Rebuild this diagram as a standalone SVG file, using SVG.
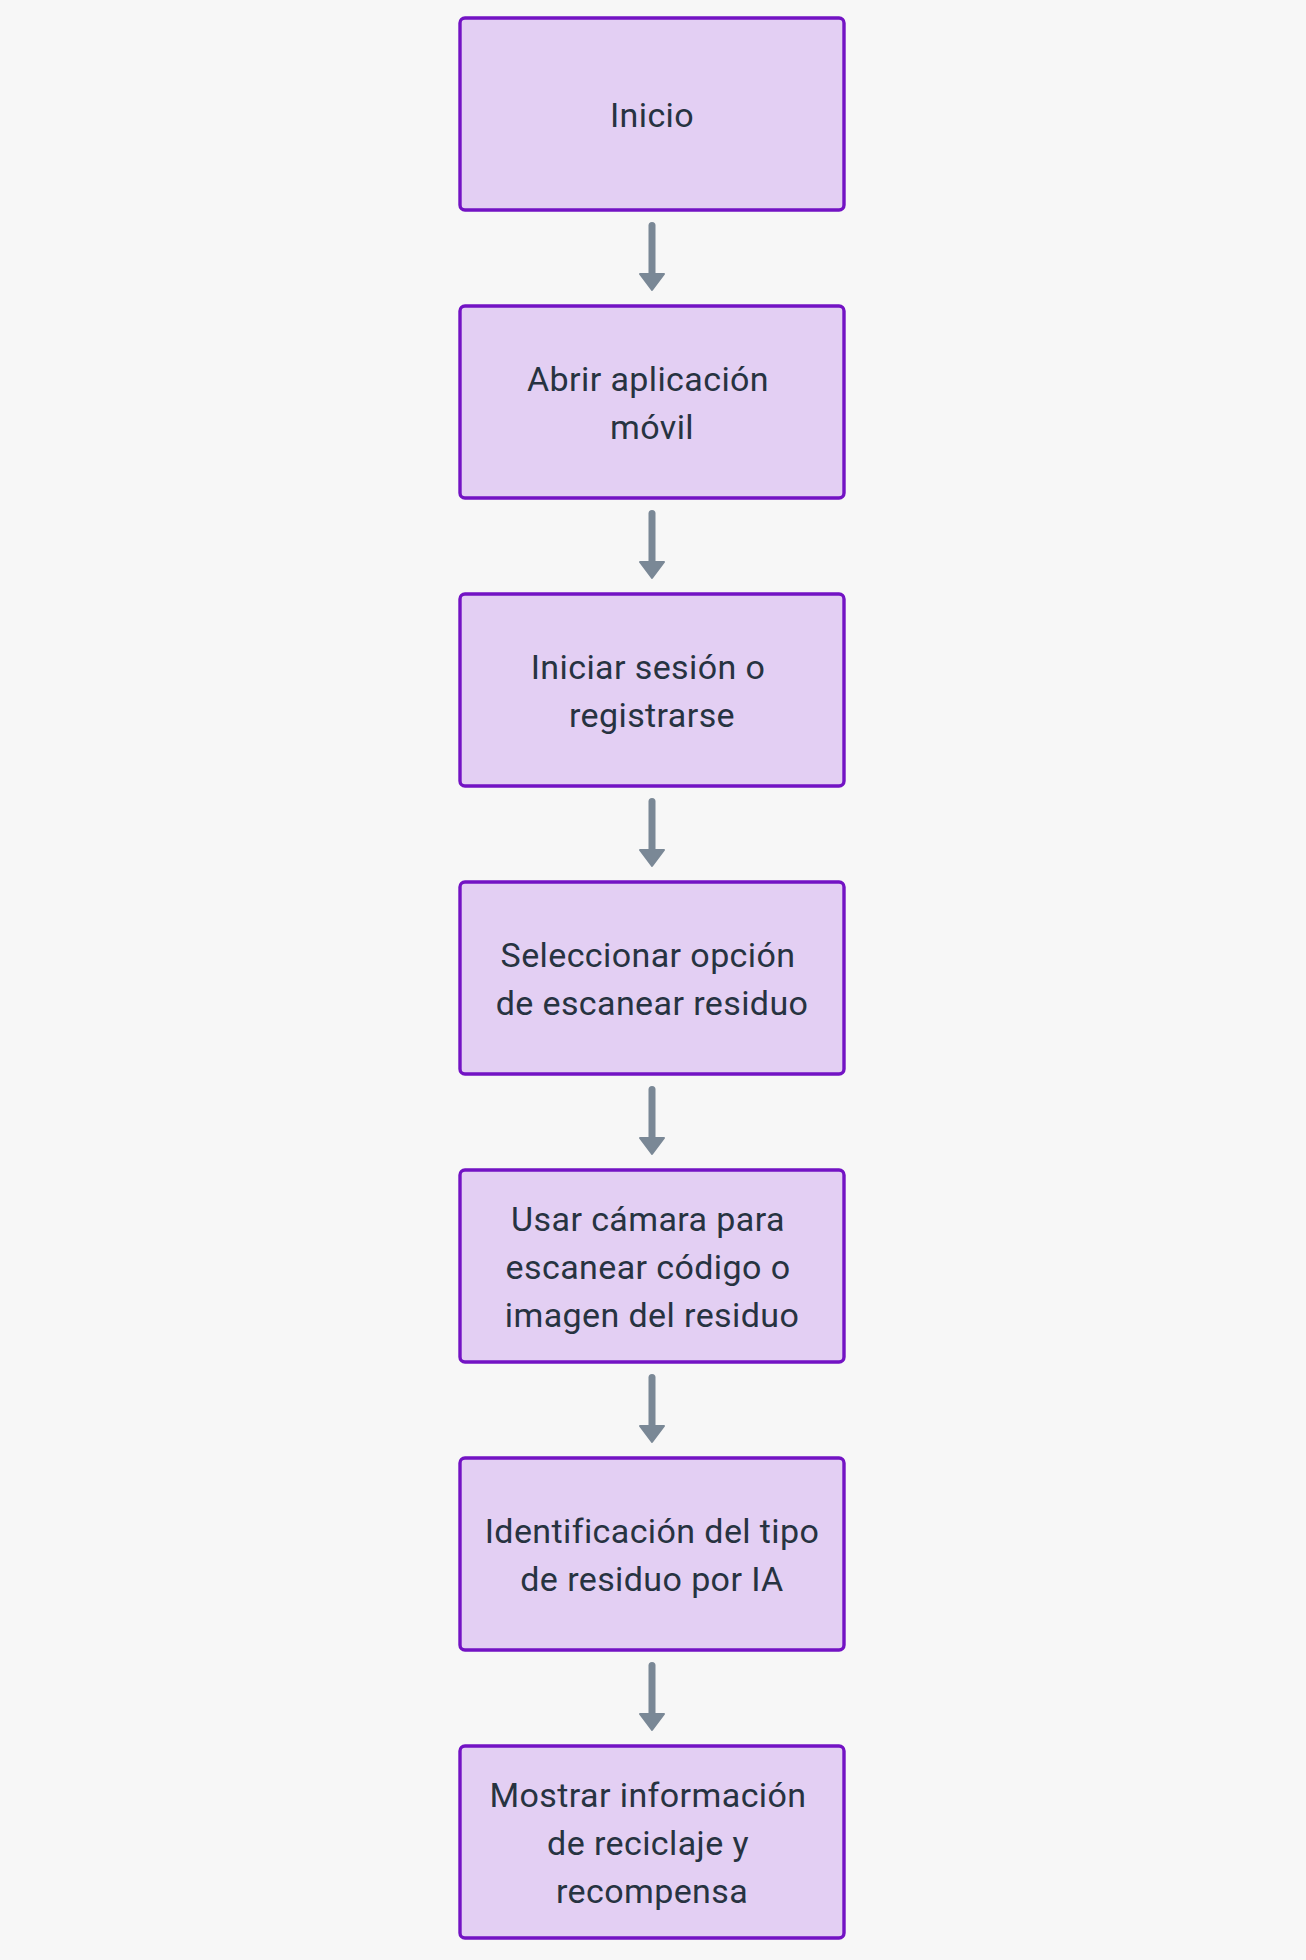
<svg xmlns="http://www.w3.org/2000/svg" width="1306" height="1960" viewBox="0 0 1306 1960">
<style>
.node rect{fill:#e3cff3;stroke:#7313c4;stroke-width:3.4}
.node text{font-family:Roboto,"Liberation Sans",sans-serif;font-size:34px;letter-spacing:0.4px;fill:#273341;text-anchor:middle}
.edge{stroke:#7a8896;stroke-width:7;stroke-linecap:round;fill:none}
</style>
<defs>
<marker id="ah" markerUnits="userSpaceOnUse" viewBox="-2 -15 21 30" markerWidth="21" markerHeight="30" refX="0" refY="0" orient="auto">
<path d="M0,-12 L16,0 L0,12 z" fill="#7a8896" stroke="#7a8896" stroke-width="2" stroke-linejoin="round"/>
</marker>
</defs>
<rect width="1306" height="1960" fill="#f7f7f7"/>
<g id="connectors">
<line class="edge" x1="652" y1="225.5" x2="652" y2="274" marker-end="url(#ah)"/>
<line class="edge" x1="652" y1="513.5" x2="652" y2="562" marker-end="url(#ah)"/>
<line class="edge" x1="652" y1="801.5" x2="652" y2="850" marker-end="url(#ah)"/>
<line class="edge" x1="652" y1="1089.5" x2="652" y2="1138" marker-end="url(#ah)"/>
<line class="edge" x1="652" y1="1377.5" x2="652" y2="1426" marker-end="url(#ah)"/>
<line class="edge" x1="652" y1="1665.5" x2="652" y2="1714" marker-end="url(#ah)"/>
</g>
<g id="n1" class="node"><rect x="460" y="18" width="384" height="192" rx="5"/><text x="652" y="127">Inicio</text></g>
<g id="n2" class="node"><rect x="460" y="306" width="384" height="192" rx="5"/><text x="648" y="391">Abrir aplicación</text><text x="652" y="439">móvil</text></g>
<g id="n3" class="node"><rect x="460" y="594" width="384" height="192" rx="5"/><text x="648" y="679">Iniciar sesión o</text><text x="652" y="727">registrarse</text></g>
<g id="n4" class="node"><rect x="460" y="882" width="384" height="192" rx="5"/><text x="648" y="967">Seleccionar opción</text><text x="652" y="1015">de escanear residuo</text></g>
<g id="n5" class="node"><rect x="460" y="1170" width="384" height="192" rx="5"/><text x="648" y="1231">Usar cámara para</text><text x="648" y="1279">escanear código o</text><text x="652" y="1327">imagen del residuo</text></g>
<g id="n6" class="node"><rect x="460" y="1458" width="384" height="192" rx="5"/><text x="652" y="1543">Identificación del tipo</text><text x="652" y="1591">de residuo por IA</text></g>
<g id="n7" class="node"><rect x="460" y="1746" width="384" height="192" rx="5"/><text x="648" y="1807">Mostrar información</text><text x="648" y="1855">de reciclaje y</text><text x="652" y="1903">recompensa</text></g>
</svg>
